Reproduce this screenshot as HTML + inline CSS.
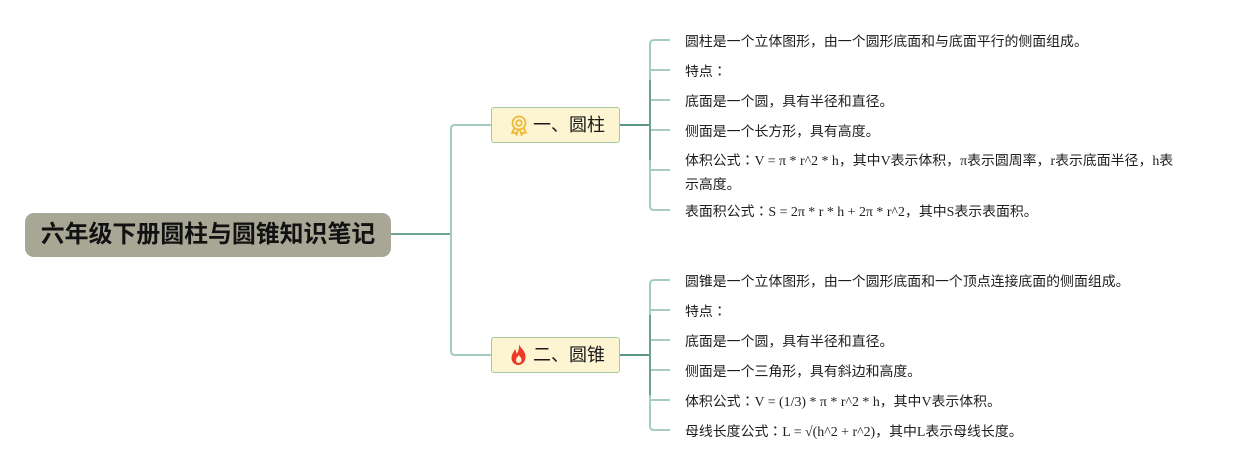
<!DOCTYPE html>
<html><head><meta charset="utf-8">
<style>
html,body{margin:0;padding:0;background:#fff;}
body{width:1245px;height:470px;position:relative;overflow:hidden;font-family:"Liberation Sans","Noto Sans CJK SC",sans-serif;}
.root{position:absolute;left:25px;top:213px;width:366px;height:44px;background:#a8a796;border-radius:9px;
 font-weight:bold;font-size:23.9px;color:#111;text-align:center;line-height:44px;letter-spacing:0px;}
.br{position:absolute;left:491px;width:127px;height:34px;background:#fdf5d1;border:1px solid #a9c9a3;border-radius:3px;
 font-size:18px;color:#1a1a1a;line-height:34px;}
.br .t{position:absolute;left:41px;top:0;}
.it{position:absolute;left:685px;font-family:"Liberation Serif","Noto Sans CJK SC",serif;font-size:13.9px;color:#1e1e1e;line-height:22px;white-space:nowrap;}
.it .c{font-family:"Liberation Sans","Noto Sans CJK SC",sans-serif;}
.it .k{font-family:"Noto Sans CJK JP",sans-serif;}
svg{position:absolute;left:0;top:0;}
</style></head><body>
<svg width="1245" height="470" viewBox="0 0 1245 470">
 <g fill="none" stroke-width="2">
  <path d="M391 234 H451" stroke="#6fa394"/>
  <path d="M491 125 H455 Q451 125 451 129 V351 Q451 355 455 355 H491" stroke="#a4cbc0"/>
  <path d="M620 125 H650" stroke="#5b9586"/>
  <path d="M620 355 H650" stroke="#5b9586"/>
  <path d="M670 40 H654 Q650 40 650 44 V206 Q650 210 654 210 H670" stroke="#a6cdc2"/>
  <path d="M650 70 H670 M650 100 H670 M650 130 H670 M650 170 H670" stroke="#a6cdc2"/>
  <path d="M650 80 V160" stroke="#6d9f92"/>
  <path d="M670 280 H654 Q650 280 650 284 V426 Q650 430 654 430 H670" stroke="#a6cdc2"/>
  <path d="M650 310 H670 M650 340 H670 M650 370 H670 M650 400 H670" stroke="#a6cdc2"/>
  <path d="M650 315 V395" stroke="#6d9f92"/>
 </g>
</svg>
<div class="root">六年级下册圆柱与圆锥知识笔记</div>

<div class="br" style="top:107px;">
 <svg width="24" height="24" viewBox="0 0 24 24" style="left:16px;top:6px;">
  <g fill="none" stroke="#f1b93a" stroke-width="1.8" stroke-linejoin="round">
   <circle cx="11" cy="9" r="6.5"/>
   <circle cx="11" cy="9" r="2.8"/>
   <path d="M6.5 13.5 L4 19 L7 18.5 L8.5 21 L10 16"/>
   <path d="M15.5 13.5 L18 19 L15 18.5 L13.5 21 L12 16"/>
  </g>
 </svg>
 <span class="t">一、圆柱</span>
</div>

<div class="br" style="top:337px;">
 <svg width="24" height="26" viewBox="0 0 24 26" style="left:16px;top:4px;">
  <path d="M11 2 C12 6 17 8 17.5 14 C18 19 14.5 23 10.5 23 C6.5 23 3.5 20 3.5 16 C3.5 12 6 10 7 7 C8 9 8.5 10.5 8.5 12 C10 10 11.5 7 11 2 Z M10.5 21 C12.5 21 13.5 19.5 13.5 17.8 C13.5 15.8 11.5 14.5 10.8 12.8 C10 15 8 16 8 18 C8 19.8 9 21 10.5 21 Z" fill="#ee3a24" fill-rule="evenodd"/>
 </svg>
 <span class="t">二、圆锥</span>
</div>

<div class="it" style="top:30px;"><span class="c">圆柱是一个立体图形，由一个圆形底面和与底面平行的侧面组成。</span></div>
<div class="it" style="top:60px;"><span class="c">特点</span><span class="k">：</span></div>
<div class="it" style="top:90px;"><span class="c">底面是一个圆，具有半径和直径。</span></div>
<div class="it" style="top:120px;"><span class="c">侧面是一个长方形，具有高度。</span></div>
<div class="it" style="top:149px;"><span class="c">体积公式</span><span class="k">：</span>V = π * r^2 * h<span class="c">，其中</span>V<span class="c">表示体积，</span>π<span class="c">表示圆周率，</span>r<span class="c">表示底面半径，</span>h<span class="c">表</span><br><span class="c">示高度。</span></div>
<div class="it" style="top:200px;"><span class="c">表面积公式</span><span class="k">：</span>S = 2π * r * h + 2π * r^2<span class="c">，其中</span>S<span class="c">表示表面积。</span></div>

<div class="it" style="top:270px;"><span class="c">圆锥是一个立体图形，由一个圆形底面和一个顶点连接底面的侧面组成。</span></div>
<div class="it" style="top:300px;"><span class="c">特点</span><span class="k">：</span></div>
<div class="it" style="top:330px;"><span class="c">底面是一个圆，具有半径和直径。</span></div>
<div class="it" style="top:360px;"><span class="c">侧面是一个三角形，具有斜边和高度。</span></div>
<div class="it" style="top:390px;"><span class="c">体积公式</span><span class="k">：</span>V = (1/3) * π * r^2 * h<span class="c">，其中</span>V<span class="c">表示体积。</span></div>
<div class="it" style="top:420px;"><span class="c">母线长度公式</span><span class="k">：</span>L = √(h^2 + r^2)<span class="c">，其中</span>L<span class="c">表示母线长度。</span></div>
</body></html>
